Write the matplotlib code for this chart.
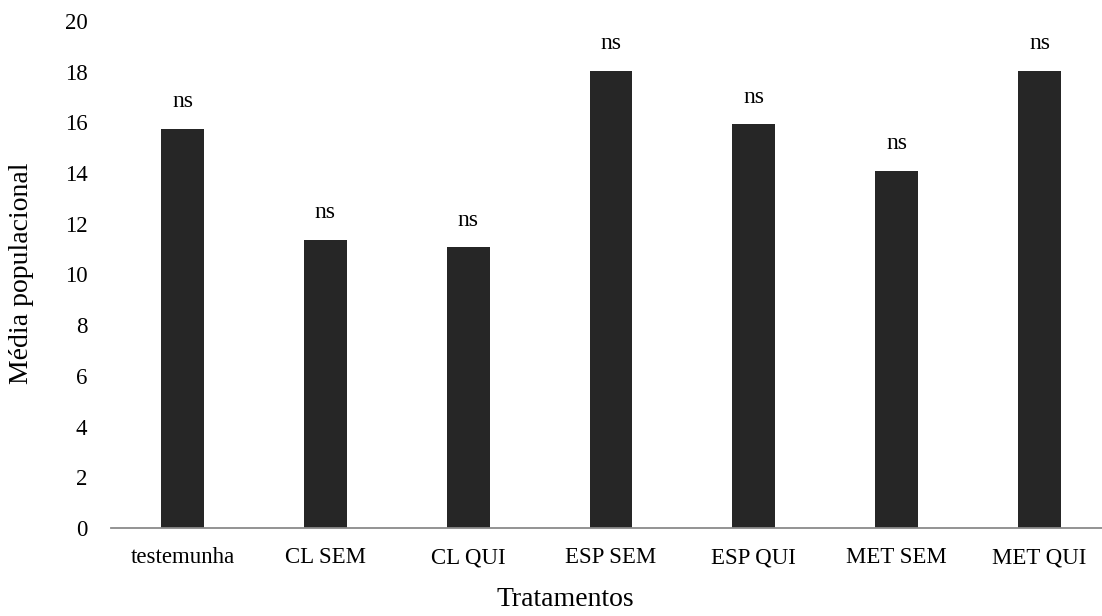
import numpy as np
import matplotlib
matplotlib.use("Agg")
import matplotlib.pyplot as plt

plt.rcParams['font.family'] = ['Liberation Serif', 'DejaVu Serif']

# data
tratamentos = ["testemunha", "CL SEM", "CL QUI", "ESP SEM", "ESP QUI", "MET SEM", "MET QUI"]
media = [15.74, 11.36, 11.07, 18.04, 15.92, 14.08, 18.04]
letras = ["ns", "ns", "ns", "ns", "ns", "ns", "ns"]
y_ticks = list(range(0, 21, 2))

fig = plt.figure(figsize=(11.02, 6.16), dpi=100)
# axis runs a bit past the right border, like the cropped original
ax = fig.add_axes([111 / 1102, 88 / 616, 1000 / 1102, 507 / 616])

x = np.arange(len(tratamentos))
bars = ax.bar(x, media, width=0.30, color="#262626")

for b, txt in zip(bars, letras):
    ax.annotate(txt, (b.get_x() + b.get_width() / 2, b.get_height()),
                xytext=(0, 12), textcoords="offset points",
                ha="center", va="bottom", fontsize=17)

ax.set_xlim(-0.5, len(tratamentos) - 0.5)
ax.set_ylim(0, 20)
ax.set_yticks(y_ticks)
ax.set_xticks(x)
ax.set_xticklabels(tratamentos)

for s in ["top", "right", "left"]:
    ax.spines[s].set_visible(False)
ax.spines["bottom"].set_color("#8a8a8a")
ax.spines["bottom"].set_linewidth(1.3)

ax.tick_params(axis="x", length=0, pad=14, labelsize=16.5)
ax.tick_params(axis="y", length=0, pad=17, labelsize=16.5)

fig.text(22 / 1102, 1 - 273 / 616, "Média populacional", rotation=90,
         ha="center", va="center", fontsize=20)
fig.text(565 / 1102, 1 - 600 / 616, "Tratamentos", ha="center", va="center",
         fontsize=20)

fig.savefig("out.png", dpi=100)
